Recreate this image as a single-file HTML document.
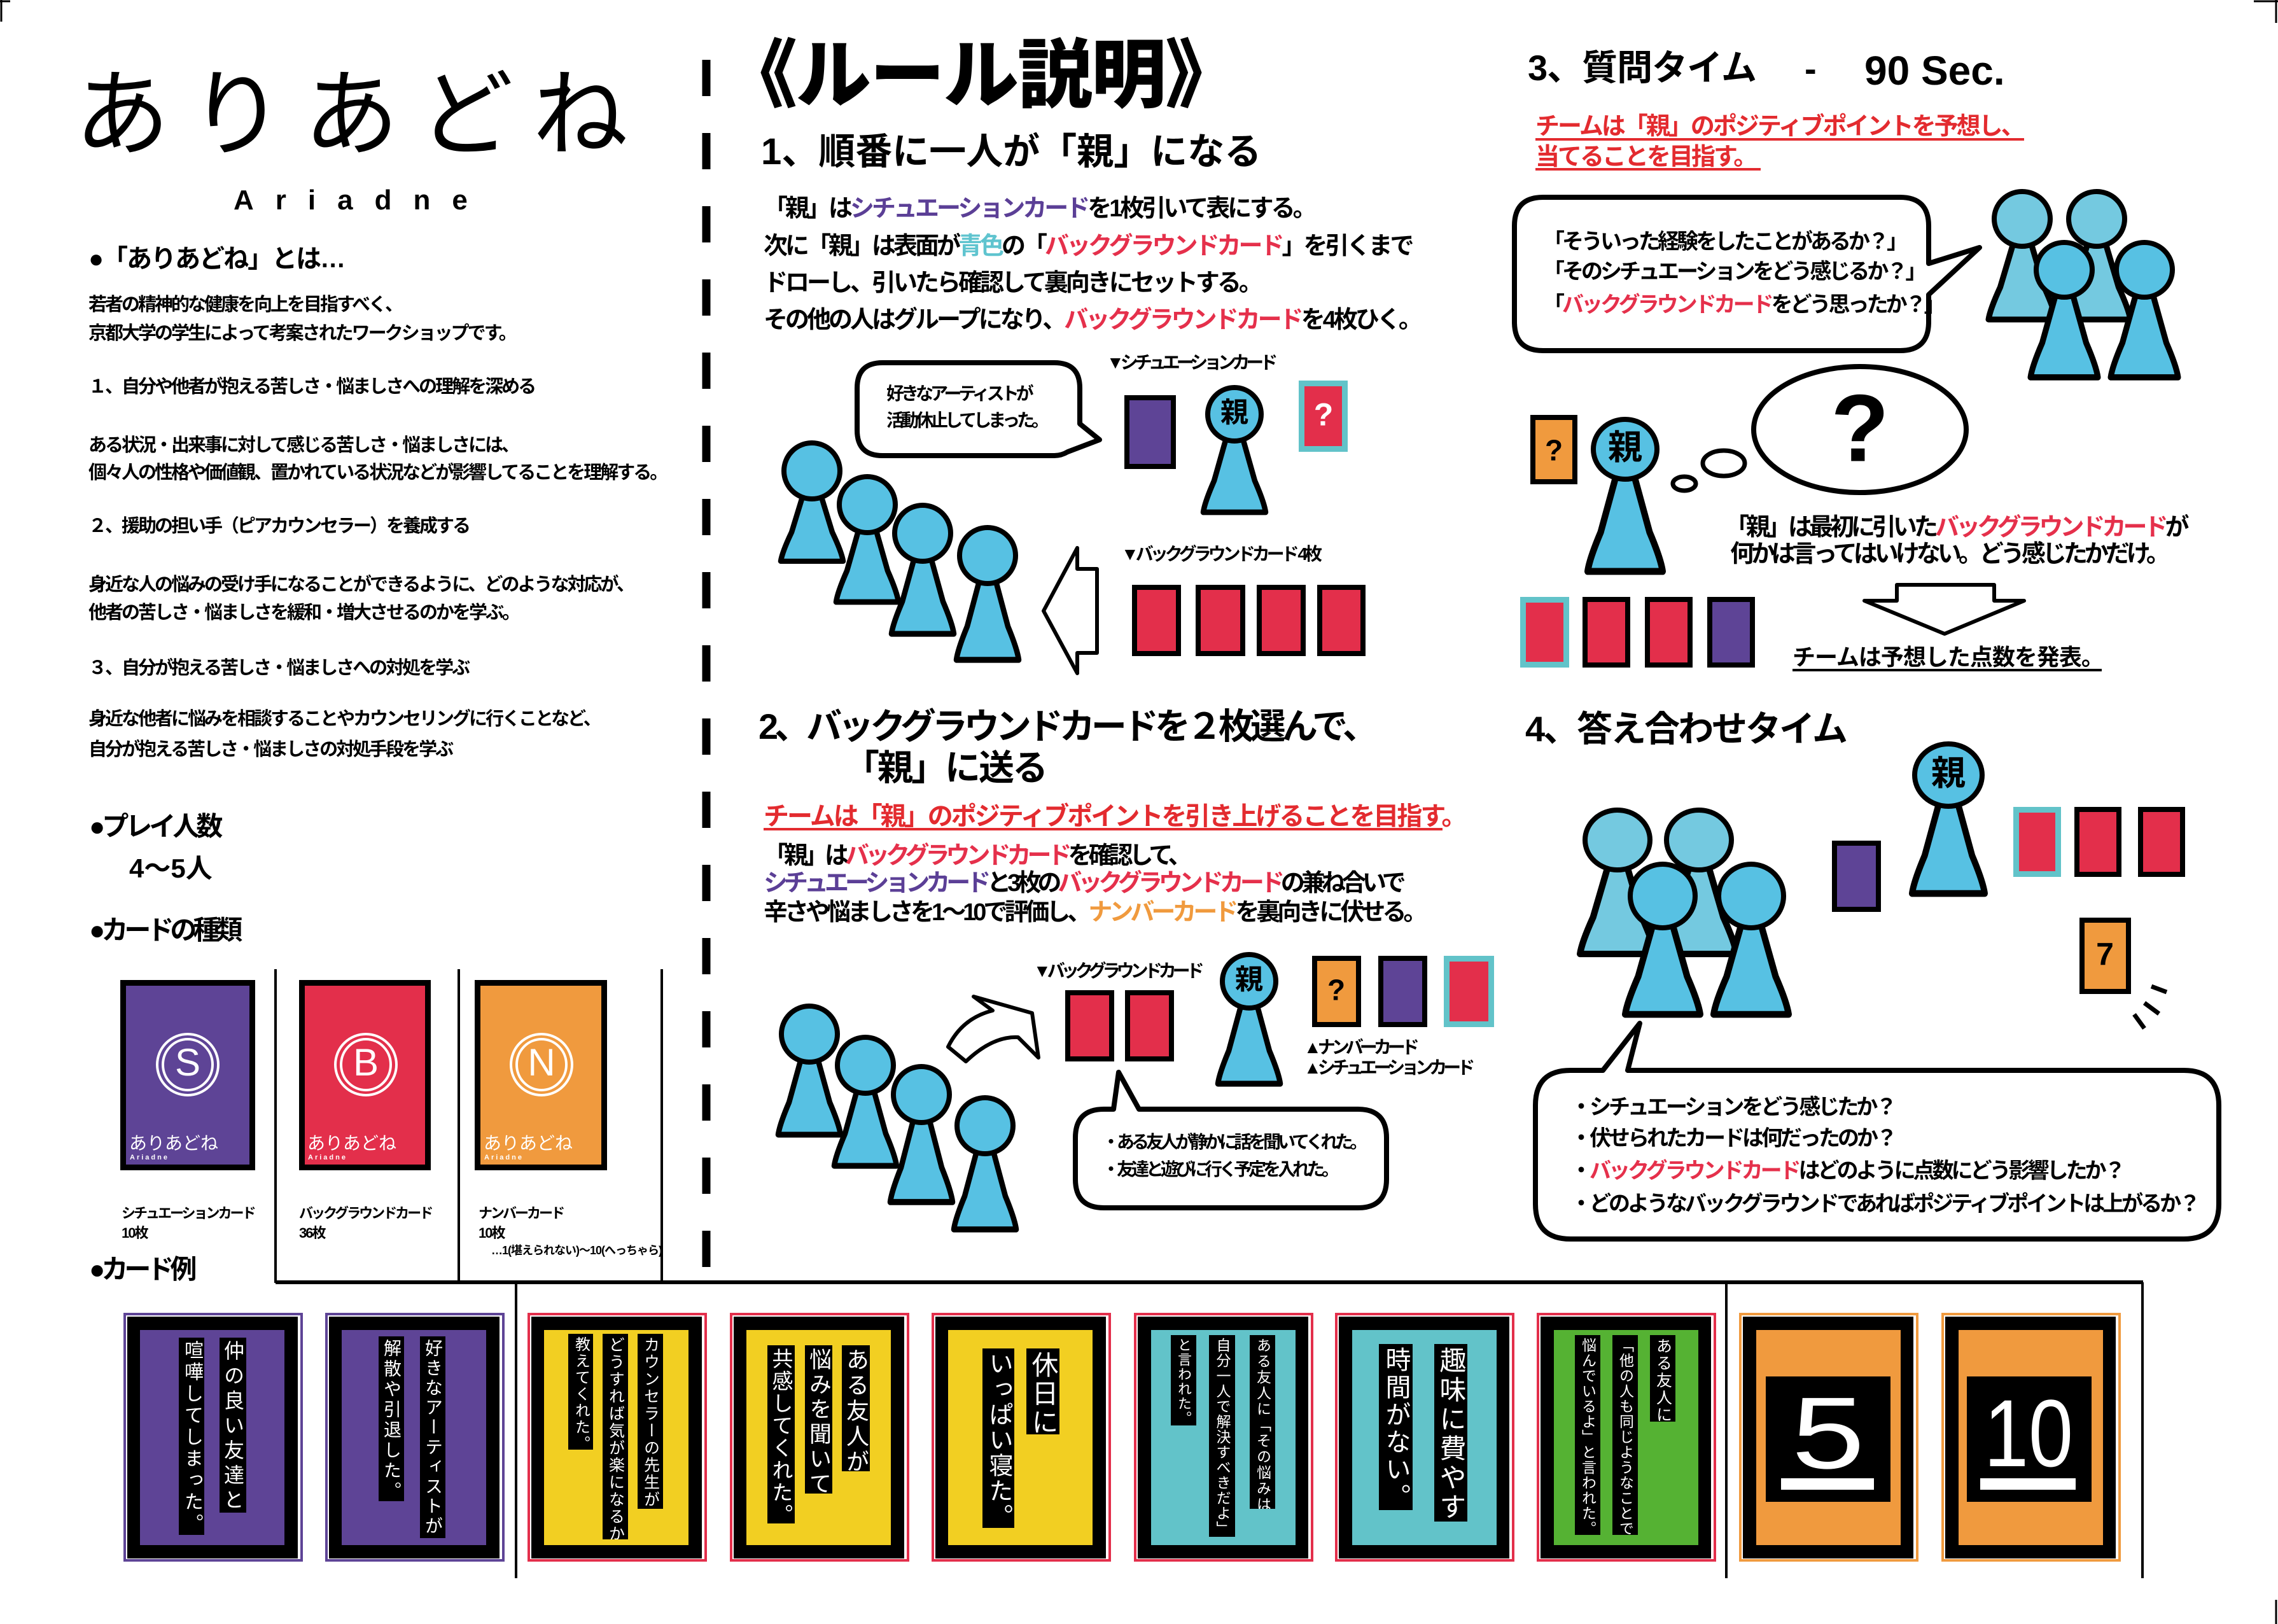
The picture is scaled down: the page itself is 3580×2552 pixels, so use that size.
<!DOCTYPE html>
<html><head><meta charset="utf-8">
<style>
html,body{margin:0;padding:0;background:#fff}
#pg{position:relative;width:3580px;height:2552px;overflow:hidden;background:#fff}
.t{position:absolute;white-space:nowrap;font-family:"Liberation Sans","Noto Sans CJK JP",sans-serif;font-weight:700;line-height:1;color:#000}
.p{color:#5b3f96}.r{color:#e5304b}.o{color:#f09a3e}.c{color:#5fc4cf}
.rd{color:#e32b2f}
.b29{font-size:29px;letter-spacing:-3px}
.l38{font-size:38px;letter-spacing:-4px}
.s28{font-size:28px;letter-spacing:-5px}
.s34{font-size:34px;letter-spacing:-4px}
.h56{font-size:56px}
.v{position:absolute;writing-mode:vertical-rl;background:#000;color:#fff;font-family:"Liberation Sans","Noto Sans CJK JP",sans-serif;font-weight:400;display:flex;align-items:center;justify-content:flex-start;line-height:1;white-space:nowrap;overflow:hidden;padding-top:4px;box-sizing:border-box}
.cc{transform:translate(-50%,-55%)}
</style></head><body><div id="pg">

<svg width="3580" height="2552" style="position:absolute;left:0;top:0">
<defs>
<path id="bd" d="M-11,30 L-30,95 Q-44,126 -46,140 L46,140 Q44,126 30,95 L11,30 Z"/>
</defs>
<path d="M0,2 H16 M2,0 V34 M3542,2 H3580 M3577,0 V36 M3577,2514 V2552" stroke="#000" stroke-width="3" fill="none"/>
<line x1="1110" y1="94" x2="1110" y2="2012" stroke="#000" stroke-width="13" stroke-dasharray="57 58"/>
<g stroke="#000" stroke-width="4" fill="none">
<line x1="433" y1="1523" x2="433" y2="2016"/>
<line x1="721" y1="1523" x2="721" y2="2016"/>
<line x1="1040" y1="1523" x2="1040" y2="2016"/>
<line x1="433" y1="2015" x2="3368" y2="2015" stroke-width="6"/>
<line x1="811" y1="2015" x2="811" y2="2480"/>
<line x1="2713" y1="2015" x2="2713" y2="2480"/>
<line x1="3367" y1="2015" x2="3367" y2="2480"/>
</g>

<rect x="193.5" y="1544.5" width="203" height="290" fill="#5e4496" stroke="#000" stroke-width="9"/>
<rect x="474.5" y="1544.5" width="198" height="290" fill="#e32f4b" stroke="#000" stroke-width="9"/>
<rect x="750.5" y="1544.5" width="199" height="290" fill="#f09a3e" stroke="#000" stroke-width="9"/>
<g fill="none" stroke="#fff" stroke-width="4">
<ellipse cx="295" cy="1673" rx="48" ry="48"/><ellipse cx="295" cy="1673" rx="39" ry="40"/>
<ellipse cx="575" cy="1673" rx="48" ry="48"/><ellipse cx="575" cy="1673" rx="39" ry="40"/>
<ellipse cx="851" cy="1673" rx="48" ry="48"/><ellipse cx="851" cy="1673" rx="39" ry="40"/>
</g>

<g fill="#fff" stroke="#000" stroke-width="8" stroke-linejoin="round">
<path d="M1387,570 H1657 Q1697,570 1697,610 V666 L1728,691 L1678,710 Q1668,716 1657,716 H1387 Q1347,716 1347,676 V610 Q1347,570 1387,570 Z"/>
<path d="M1735,1743 H1750 L1758,1685 L1790,1743 H2134 Q2179,1743 2179,1788 V1853 Q2179,1898 2134,1898 H1735 Q1690,1898 1690,1853 V1788 Q1690,1743 1735,1743 Z"/>
<path d="M2425,310 H2986 Q3031,310 3031,355 V414 L3111,389 L3031,463 V506 Q3031,551 2986,551 H2425 Q2380,551 2380,506 V355 Q2380,310 2425,310 Z"/>
<path d="M2468,1682 H2519 L2577,1608 L2558,1682 H3432 Q3487,1682 3487,1737 V1892 Q3487,1947 3432,1947 H2468 Q2413,1947 2413,1892 V1737 Q2413,1682 2468,1682 Z"/>
<ellipse cx="2923" cy="675" rx="167" ry="99"/>
<ellipse cx="2709" cy="728" rx="33" ry="20" stroke-width="7"/>
<ellipse cx="2647" cy="760" rx="18" ry="11" stroke-width="7"/>
<path d="M1724,894 H1693 V861 L1640,960 L1693,1058 V1026 H1724 Z" stroke-width="6"/>
<path d="M1490,1645 Q1512,1600 1560,1588 L1530,1566 L1622,1592 L1632,1662 L1600,1630 Q1560,1628 1518,1668 Z" stroke-width="6"/>
<path d="M2981,919 H3134 V944 H3181 L3056,996 L2930,944 H2981 Z" stroke-width="6"/>
</g>

<g stroke="#000" stroke-width="8">
<rect x="1771" y="625" width="73" height="108" fill="#5e4496"/>
<rect x="1783" y="923" width="69" height="104" fill="#e32f4b"/>
<rect x="1883" y="923" width="70" height="104" fill="#e32f4b"/>
<rect x="1979" y="923" width="69" height="104" fill="#e32f4b"/>
<rect x="2074" y="923" width="68" height="104" fill="#e32f4b"/>
<rect x="1678" y="1560" width="69" height="104" fill="#e32f4b"/>
<rect x="1772" y="1560" width="69" height="104" fill="#e32f4b"/>
<rect x="2066" y="1506" width="69" height="104" fill="#f09a3e"/>
<rect x="2170" y="1506" width="69" height="104" fill="#5e4496"/>
<rect x="2409" y="656" width="66" height="101" fill="#f09a3e"/>
<rect x="2491" y="942" width="67" height="103" fill="#e32f4b"/>
<rect x="2589" y="942" width="67" height="103" fill="#e32f4b"/>
<rect x="2687" y="942" width="67" height="103" fill="#5e4496"/>
<rect x="2883" y="1325" width="69" height="104" fill="#5e4496"/>
<rect x="3264" y="1272" width="66" height="102" fill="#e32f4b"/>
<rect x="3364" y="1272" width="66" height="102" fill="#e32f4b"/>
<rect x="3272" y="1446" width="73" height="112" fill="#f09a3e"/>
</g>
<g stroke="#62c3c9" stroke-width="9">
<rect x="2045.5" y="602.5" width="68" height="103" fill="#e32f4b"/>
<rect x="2273.5" y="1506.5" width="70" height="103" fill="#e32f4b"/>
<rect x="2393.5" y="942.5" width="68" height="102" fill="#e32f4b"/>
<rect x="3168.5" y="1272.5" width="66" height="101" fill="#e32f4b"/>
</g>
<g stroke="#000" stroke-width="7">
<line x1="3381" y1="1550" x2="3405" y2="1559"/>
<line x1="3370" y1="1576" x2="3393" y2="1593"/>
<line x1="3354" y1="1594" x2="3370" y2="1616"/>
</g>

<g stroke="#000" stroke-width="8" stroke-linejoin="round">
<use href="#bd" transform="translate(1276,740) scale(1.065,1.014)" fill="#57c1e3"/><ellipse cx="1276" cy="740" rx="44" ry="44" fill="#57c1e3"/>
<use href="#bd" transform="translate(1363,793) scale(1.065,1.093)" fill="#57c1e3"/><ellipse cx="1363" cy="793" rx="44" ry="44" fill="#57c1e3"/>
<use href="#bd" transform="translate(1450,838) scale(1.065,1.129)" fill="#57c1e3"/><ellipse cx="1450" cy="838" rx="44" ry="44" fill="#57c1e3"/>
<use href="#bd" transform="translate(1552,873) scale(1.065,1.171)" fill="#57c1e3"/><ellipse cx="1552" cy="873" rx="44" ry="44" fill="#57c1e3"/>
<use href="#bd" transform="translate(1940,651) scale(1.065,1.1)" fill="#57c1e3"/><ellipse cx="1940" cy="651" rx="42" ry="42" fill="#57c1e3"/>
<use href="#bd" transform="translate(1272,1625) scale(1.065,1.129)" fill="#57c1e3"/><ellipse cx="1272" cy="1625" rx="44" ry="44" fill="#57c1e3"/>
<use href="#bd" transform="translate(1360,1674) scale(1.065,1.129)" fill="#57c1e3"/><ellipse cx="1360" cy="1674" rx="44" ry="44" fill="#57c1e3"/>
<use href="#bd" transform="translate(1448,1720) scale(1.065,1.207)" fill="#57c1e3"/><ellipse cx="1448" cy="1720" rx="44" ry="44" fill="#57c1e3"/>
<use href="#bd" transform="translate(1548,1769) scale(1.065,1.164)" fill="#57c1e3"/><ellipse cx="1548" cy="1769" rx="44" ry="44" fill="#57c1e3"/>
<use href="#bd" transform="translate(1963,1542) scale(1.065,1.15)" fill="#57c1e3"/><ellipse cx="1963" cy="1542" rx="42" ry="42" fill="#57c1e3"/>
<use href="#bd" transform="translate(3178,344) scale(1.15,1.129)" fill="#74c9e0"/><ellipse cx="3178" cy="344" rx="44" ry="43" fill="#74c9e0"/>
<use href="#bd" transform="translate(3295,344) scale(1.15,1.129)" fill="#74c9e0"/><ellipse cx="3295" cy="344" rx="44" ry="43" fill="#74c9e0"/>
<use href="#bd" transform="translate(3244,424) scale(1.15,1.207)" fill="#57c1e3"/><ellipse cx="3244" cy="424" rx="44" ry="43" fill="#57c1e3"/>
<use href="#bd" transform="translate(3370,424) scale(1.15,1.207)" fill="#57c1e3"/><ellipse cx="3370" cy="424" rx="44" ry="43" fill="#57c1e3"/>
<use href="#bd" transform="translate(2554,706) scale(1.28,1.371)" fill="#57c1e3"/><ellipse cx="2554" cy="706" rx="50" ry="47" fill="#57c1e3"/>
<use href="#bd" transform="translate(2542,1320) scale(1.28,1.279)" fill="#74c9e0"/><ellipse cx="2542" cy="1320" rx="51" ry="47" fill="#74c9e0"/>
<use href="#bd" transform="translate(2670,1320) scale(1.28,1.279)" fill="#74c9e0"/><ellipse cx="2670" cy="1320" rx="51" ry="47" fill="#74c9e0"/>
<use href="#bd" transform="translate(2613,1408) scale(1.28,1.329)" fill="#57c1e3"/><ellipse cx="2613" cy="1408" rx="51" ry="50" fill="#57c1e3"/>
<use href="#bd" transform="translate(2752,1408) scale(1.28,1.329)" fill="#57c1e3"/><ellipse cx="2752" cy="1408" rx="51" ry="50" fill="#57c1e3"/>
<use href="#bd" transform="translate(3062,1218) scale(1.24,1.329)" fill="#57c1e3"/><ellipse cx="3062" cy="1218" rx="53" ry="49" fill="#57c1e3"/>
</g>

<g stroke-width="4">
<line x1="1200" y1="1303" x2="2267" y2="1303" stroke="#e32b2f"/>
<line x1="2413" y1="219" x2="3181" y2="219" stroke="#e32b2f"/>
<line x1="2413" y1="266" x2="2767" y2="266" stroke="#e32b2f"/>
<line x1="2817" y1="1053" x2="3303" y2="1053" stroke="#000"/>
</g>

<g>
<rect x="196" y="2065" width="278" height="387" fill="#fff" stroke="#5e4496" stroke-width="4"/>
<rect x="200" y="2069" width="268" height="380" fill="#000"/><rect x="220" y="2090" width="227" height="338" fill="#5e4496"/>
<rect x="513" y="2065" width="278" height="387" fill="#fff" stroke="#5e4496" stroke-width="4"/>
<rect x="517" y="2069" width="268" height="380" fill="#000"/><rect x="537" y="2090" width="227" height="338" fill="#5e4496"/>
<rect x="831" y="2065" width="278" height="387" fill="#fff" stroke="#e32f4b" stroke-width="4"/>
<rect x="835" y="2069" width="268" height="380" fill="#000"/><rect x="855" y="2090" width="227" height="338" fill="#f2cf22"/>
<rect x="1149" y="2065" width="278" height="387" fill="#fff" stroke="#e32f4b" stroke-width="4"/>
<rect x="1153" y="2069" width="268" height="380" fill="#000"/><rect x="1173" y="2090" width="227" height="338" fill="#f2cf22"/>
<rect x="1466" y="2065" width="278" height="387" fill="#fff" stroke="#e32f4b" stroke-width="4"/>
<rect x="1470" y="2069" width="268" height="380" fill="#000"/><rect x="1490" y="2090" width="227" height="338" fill="#f2cf22"/>
<rect x="1784" y="2065" width="278" height="387" fill="#fff" stroke="#e32f4b" stroke-width="4"/>
<rect x="1788" y="2069" width="268" height="380" fill="#000"/><rect x="1809" y="2090" width="227" height="338" fill="#62c3c9"/>
<rect x="2100" y="2065" width="278" height="387" fill="#fff" stroke="#e32f4b" stroke-width="4"/>
<rect x="2104" y="2069" width="268" height="380" fill="#000"/><rect x="2125" y="2090" width="227" height="338" fill="#62c3c9"/>
<rect x="2417" y="2065" width="278" height="387" fill="#fff" stroke="#e32f4b" stroke-width="4"/>
<rect x="2421" y="2069" width="268" height="380" fill="#000"/><rect x="2442" y="2090" width="227" height="338" fill="#55b233"/>
<rect x="2735" y="2065" width="278" height="387" fill="#fff" stroke="#f09a3e" stroke-width="4"/>
<rect x="2739" y="2069" width="268" height="380" fill="#000"/><rect x="2760" y="2090" width="227" height="338" fill="#f09a3e"/>
<rect x="3053" y="2065" width="278" height="387" fill="#fff" stroke="#f09a3e" stroke-width="4"/>
<rect x="3057" y="2069" width="268" height="380" fill="#000"/><rect x="3078" y="2090" width="227" height="338" fill="#f09a3e"/>
<rect x="2775" y="2163" width="196" height="197" fill="#000"/>
<rect x="3091" y="2163" width="196" height="197" fill="#000"/>
<rect x="2799" y="2323" width="146" height="18" fill="#fff"/>
<rect x="3112" y="2323" width="150" height="18" fill="#fff"/>
<text x="2873" y="2307" fill="#fff" font-family="Liberation Sans, sans-serif" font-size="160" text-anchor="middle" textLength="115" lengthAdjust="spacingAndGlyphs">5</text>
<text x="3188" y="2304" fill="#fff" font-family="Liberation Sans, sans-serif" font-size="150" text-anchor="middle" textLength="140" lengthAdjust="spacingAndGlyphs">10</text>
</g>
</svg>

<div class="t" style="left:117px;top:105px;font-size:150px;font-weight:400;letter-spacing:30px">ありあどね</div>
<div class="t" style="left:367px;top:293px;font-size:44px;letter-spacing:34px">Ariadne</div>
<div class="t" style="left:139px;top:387px;font-size:40px;letter-spacing:-2px">●「ありあどね」とは…</div>
<div class="t b29" style="left:139px;top:465px">若者の精神的な健康を向上を目指すべく、</div>
<div class="t b29" style="left:139px;top:510px">京都大学の学生によって考案されたワークショップです。</div>
<div class="t b29" style="left:139px;top:594px">１、自分や他者が抱える苦しさ・悩ましさへの理解を深める</div>
<div class="t b29" style="left:139px;top:686px">ある状況・出来事に対して感じる苦しさ・悩ましさには、</div>
<div class="t b29" style="left:139px;top:729px">個々人の性格や価値観、置かれている状況などが影響してることを理解する。</div>
<div class="t b29" style="left:139px;top:813px">２、援助の担い手（ピアカウンセラー）を養成する</div>
<div class="t b29" style="left:139px;top:905px">身近な人の悩みの受け手になることができるように、どのような対応が、</div>
<div class="t b29" style="left:139px;top:949px">他者の苦しさ・悩ましさを緩和・増大させるのかを学ぶ。</div>
<div class="t b29" style="left:139px;top:1036px">３、自分が抱える苦しさ・悩ましさへの対処を学ぶ</div>
<div class="t b29" style="left:139px;top:1116px">身近な他者に悩みを相談することやカウンセリングに行くことなど、</div>
<div class="t b29" style="left:139px;top:1164px">自分が抱える苦しさ・悩ましさの対処手段を学ぶ</div>
<div class="t" style="left:140px;top:1278px;font-size:42px;letter-spacing:-5px">●プレイ人数</div>
<div class="t" style="left:203px;top:1344px;font-size:42px">4～5人</div>
<div class="t" style="left:140px;top:1441px;font-size:42px;letter-spacing:-6px">●カードの種類</div>
<div class="t" style="left:140px;top:1974px;font-size:42px;letter-spacing:-6px">●カード例</div>

<div class="t cc" style="left:295px;top:1673px;font-size:60px;font-weight:400;color:#fff">S</div>
<div class="t cc" style="left:575px;top:1673px;font-size:60px;font-weight:400;color:#fff">B</div>
<div class="t cc" style="left:851px;top:1673px;font-size:60px;font-weight:400;color:#fff">N</div>
<div class="t" style="left:203px;top:1783px;font-size:28px;font-weight:400;color:#fff">ありあどね</div>
<div class="t" style="left:204px;top:1814px;font-size:11px;letter-spacing:3px;color:#fff">Ariadne</div>
<div class="t" style="left:483px;top:1783px;font-size:28px;font-weight:400;color:#fff">ありあどね</div>
<div class="t" style="left:484px;top:1814px;font-size:11px;letter-spacing:3px;color:#fff">Ariadne</div>
<div class="t" style="left:760px;top:1783px;font-size:28px;font-weight:400;color:#fff">ありあどね</div>
<div class="t" style="left:761px;top:1814px;font-size:11px;letter-spacing:3px;color:#fff">Ariadne</div>

<div class="t" style="left:191px;top:1896px;font-size:22px;letter-spacing:-3px">シチュエーションカード</div>
<div class="t" style="left:191px;top:1927px;font-size:22px;letter-spacing:-2px">10枚</div>
<div class="t" style="left:470px;top:1896px;font-size:22px;letter-spacing:-3px">バックグラウンドカード</div>
<div class="t" style="left:470px;top:1927px;font-size:22px;letter-spacing:-2px">36枚</div>
<div class="t" style="left:752px;top:1896px;font-size:22px;letter-spacing:-3px">ナンバーカード</div>
<div class="t" style="left:752px;top:1927px;font-size:22px;letter-spacing:-2px">10枚</div>
<div class="t" style="left:772px;top:1956px;font-size:18px;letter-spacing:-1px">…1(堪えられない)～10(へっちゃら)</div>

<div class="t" style="left:1135px;top:60px;font-size:118px;font-weight:900;letter-spacing:-2px">《ルール説明》</div>
<div class="t" style="left:1196px;top:210px;font-size:58px;letter-spacing:0px">1、順番に一人が「親」になる</div>
<div class="t l38" style="left:1200px;top:309px">「親」は<span class="p">シチュエーションカード</span>を1枚引いて表にする。</div>
<div class="t l38" style="left:1200px;top:368px">次に「親」は表面が<span class="c">青色</span>の「<span class="r">バックグラウンドカード</span>」を引くまで</div>
<div class="t l38" style="left:1200px;top:426px">ドローし、引いたら確認して裏向きにセットする。</div>
<div class="t l38" style="left:1200px;top:484px">その他の人はグループになり、<span class="r">バックグラウンドカード</span>を4枚ひく。</div>
<div class="t s28" style="left:1393px;top:605px">好きなアーティストが</div>
<div class="t s28" style="left:1393px;top:647px">活動休止してしまった。</div>
<div class="t" style="left:1739px;top:556px;font-size:28px;letter-spacing:-6px">▼シチュエーションカード</div>
<div class="t" style="left:1762px;top:857px;font-size:28px;letter-spacing:-5px">▼バックグラウンドカード 4枚</div>
<div class="t cc" style="left:1940px;top:651px;font-size:44px">親</div>
<div class="t cc" style="left:2080px;top:654px;font-size:50px;color:#fff">?</div>

<div class="t h56" style="left:1192px;top:1114px;letter-spacing:-6px">2、バックグラウンドカードを２枚選んで、</div>
<div class="t h56" style="left:1326px;top:1179px;letter-spacing:-3px">「親」に送る</div>
<div class="t rd" style="left:1200px;top:1263px;font-size:40px;letter-spacing:-3px">チームは「親」のポジティブポイントを引き上げることを目指す。</div>
<div class="t" style="left:1200px;top:1326px;font-size:38px;letter-spacing:-6px">「親」は<span class="r">バックグラウンドカード</span>を確認して、</div>
<div class="t" style="left:1200px;top:1369px;font-size:38px;letter-spacing:-6px"><span class="p">シチュエーションカード</span>と3枚の<span class="r">バックグラウンドカード</span>の兼ね合いで</div>
<div class="t" style="left:1200px;top:1415px;font-size:38px;letter-spacing:-5px">辛さや悩ましさを1～10で評価し、<span class="o">ナンバーカード</span>を裏向きに伏せる。</div>
<div class="t" style="left:1624px;top:1512px;font-size:28px;letter-spacing:-6px">▼バックグラウンドカード</div>
<div class="t" style="left:2049px;top:1632px;font-size:28px;letter-spacing:-6px">▲ナンバーカード</div>
<div class="t" style="left:2049px;top:1664px;font-size:28px;letter-spacing:-6px">▲シチュエーションカード</div>
<div class="t s28" style="left:1732px;top:1781px">・ある友人が静かに話を聞いてくれた。</div>
<div class="t s28" style="left:1732px;top:1824px">・友達と遊びに行く予定を入れた。</div>
<div class="t cc" style="left:1963px;top:1542px;font-size:44px">親</div>
<div class="t cc" style="left:2100px;top:1558px;font-size:46px">?</div>

<div class="t h56" style="left:2401px;top:79px;letter-spacing:-1px">3、質問タイム</div>
<div class="t" style="left:2836px;top:80px;font-size:56px">-</div>
<div class="t" style="left:2930px;top:79px;font-size:64px">90 Sec.</div>
<div class="t rd" style="left:2413px;top:180px;font-size:38px;letter-spacing:-3px">チームは「親」のポジティブポイントを予想し、</div>
<div class="t rd" style="left:2413px;top:228px;font-size:38px;letter-spacing:-3px">当てることを目指す。</div>
<div class="t s34" style="left:2425px;top:363px">「そういった経験をしたことがあるか？」</div>
<div class="t s34" style="left:2425px;top:410px">「そのシチュエーションをどう感じるか？」</div>
<div class="t s34" style="left:2425px;top:462px">「<span class="r">バックグラウンドカード</span>をどう思ったか？」</div>
<div class="t cc" style="left:2923px;top:680px;font-size:150px;font-family:'Liberation Sans',sans-serif">?</div>
<div class="t cc" style="left:2442px;top:710px;font-size:46px">?</div>
<div class="t cc" style="left:2554px;top:706px;font-size:54px">親</div>
<div class="t" style="left:2711px;top:810px;font-size:38px;letter-spacing:-5px">「親」は最初に引いた<span class="r">バックグラウンドカード</span>が</div>
<div class="t" style="left:2719px;top:852px;font-size:38px;letter-spacing:-5px">何かは言ってはいけない。どう感じたかだけ。</div>
<div class="t" style="left:2817px;top:1015px;font-size:36px;letter-spacing:-1px">チームは予想した点数を発表。</div>

<div class="t h56" style="left:2397px;top:1118px;letter-spacing:-3px">4、答え合わせタイム</div>
<div class="t cc" style="left:3062px;top:1218px;font-size:54px">親</div>
<div class="t cc" style="left:3308px;top:1502px;font-size:50px">7</div>
<div class="t s34" style="left:2468px;top:1723px">・シチュエーションをどう感じたか？</div>
<div class="t s34" style="left:2468px;top:1772px">・伏せられたカードは何だったのか？</div>
<div class="t s34" style="left:2468px;top:1823px">・<span class="r">バックグラウンドカード</span>はどのように点数にどう影響したか？</div>
<div class="t s34" style="left:2468px;top:1875px">・どのようなバックグラウンドであればポジティブポイントは上がるか？</div>

<div class="v" style="left:345px;top:2102px;width:42px;height:275px;font-size:32px;letter-spacing:7px">仲の良い友達と</div>
<div class="v" style="left:281px;top:2102px;width:40px;height:310px;font-size:30px;letter-spacing:4px">喧嘩してしまった。</div>
<div class="v" style="left:660px;top:2100px;width:40px;height:317px;font-size:28px;letter-spacing:3px">好きなアーティストが</div>
<div class="v" style="left:595px;top:2100px;width:40px;height:259px;font-size:28px;letter-spacing:4px">解散や引退した。</div>
<div class="v" style="left:1002px;top:2096px;width:40px;height:275px;font-size:25px;letter-spacing:2px">カウンセラーの先生が</div>
<div class="v" style="left:947px;top:2096px;width:40px;height:323px;font-size:25px;letter-spacing:2px">どうすれば気が楽になるか</div>
<div class="v" style="left:893px;top:2096px;width:39px;height:182px;font-size:24px;letter-spacing:2px">教えてくれた。</div>
<div class="v" style="left:1323px;top:2114px;width:44px;height:198px;font-size:36px;letter-spacing:4px">ある友人が</div>
<div class="v" style="left:1265px;top:2114px;width:43px;height:233px;font-size:35px;letter-spacing:4px">悩みを聞いて</div>
<div class="v" style="left:1206px;top:2114px;width:43px;height:280px;font-size:33px;letter-spacing:2px">共感してくれた。</div>
<div class="v" style="left:1613px;top:2119px;width:52px;height:135px;font-size:42px;letter-spacing:3px">休日に</div>
<div class="v" style="left:1544px;top:2119px;width:50px;height:282px;font-size:38px;letter-spacing:2px">いっぱい寝た。</div>
<div class="v" style="left:1964px;top:2098px;width:40px;height:273px;font-size:23px;letter-spacing:2px">ある友人に「その悩みは</div>
<div class="v" style="left:1900px;top:2098px;width:41px;height:317px;font-size:23px;letter-spacing:1px">自分一人で解決すべきだよ」</div>
<div class="v" style="left:1840px;top:2098px;width:40px;height:142px;font-size:22px;letter-spacing:1px">と言われた。</div>
<div class="v" style="left:2254px;top:2112px;width:52px;height:279px;font-size:42px;letter-spacing:4px">趣味に費やす</div>
<div class="v" style="left:2167px;top:2112px;width:53px;height:261px;font-size:40px;letter-spacing:3px">時間がない。</div>
<div class="v" style="left:2593px;top:2098px;width:40px;height:136px;font-size:25px;letter-spacing:2px">ある友人に</div>
<div class="v" style="left:2534px;top:2098px;width:40px;height:314px;font-size:23px;letter-spacing:1px">「他の人も同じようなことで</div>
<div class="v" style="left:2475px;top:2098px;width:40px;height:314px;font-size:23px;letter-spacing:1px">悩んでいるよ」と言われた。</div>

</div></body></html>
